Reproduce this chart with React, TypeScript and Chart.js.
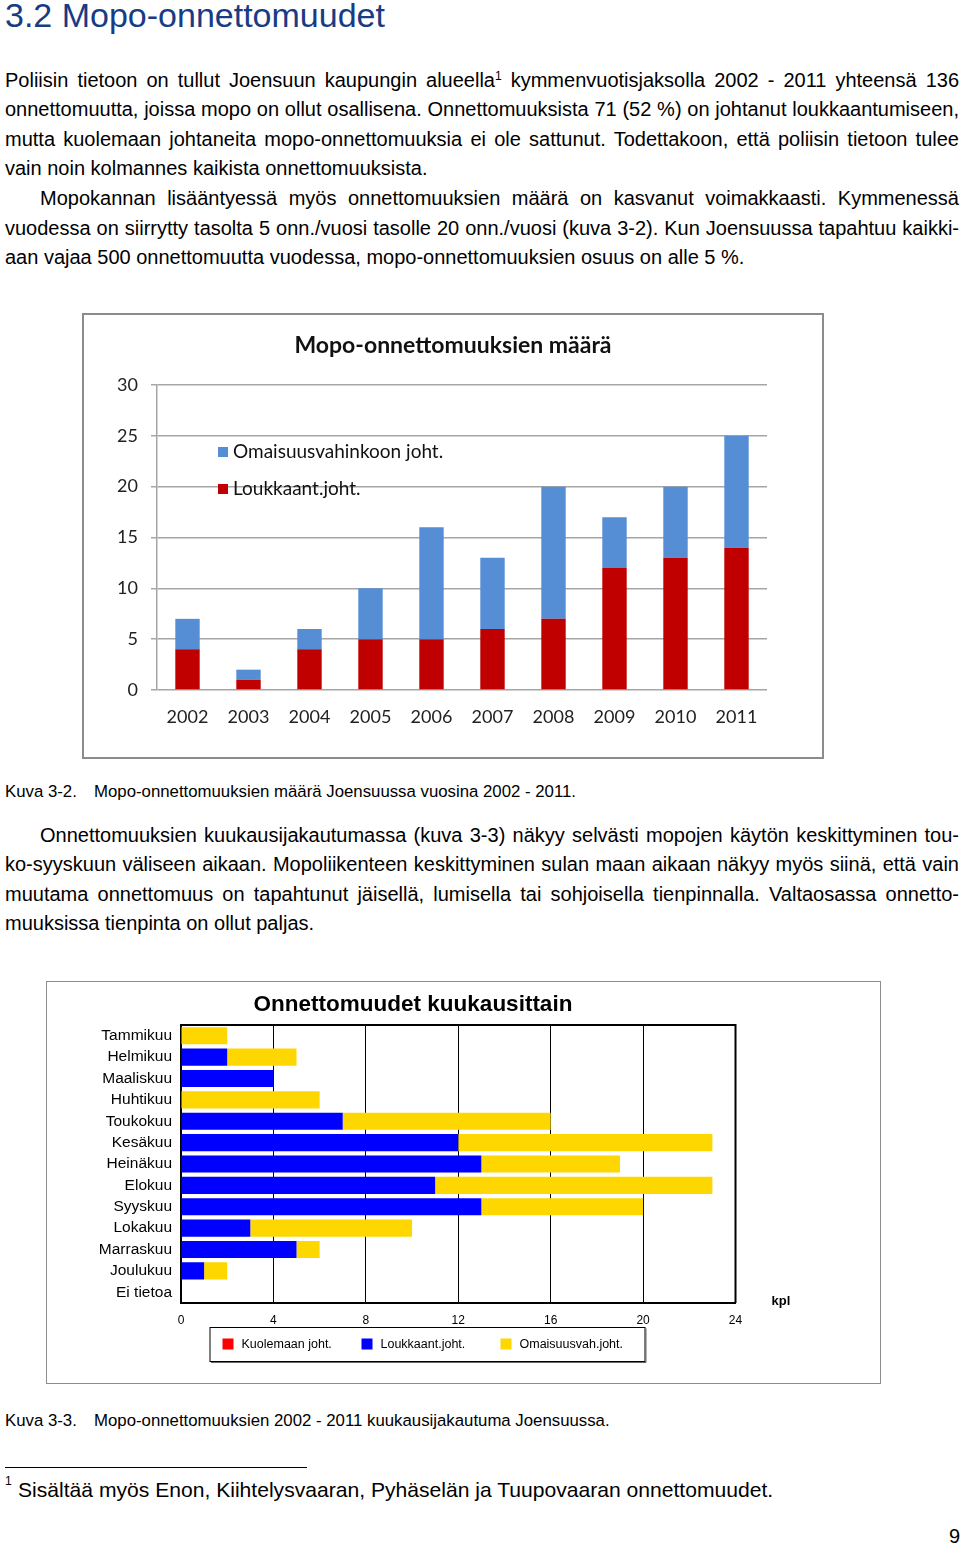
import React, { useEffect, useRef } from "react";
import { Chart, registerables } from "chart.js";

Chart.register(...registerables);

// ---------- Chart 1 data: Mopo-onnettomuuksien määrä ----------
const years = ["2002", "2003", "2004", "2005", "2006", "2007", "2008", "2009", "2010", "2011"];
const injuryByYear = [4, 1, 4, 5, 5, 6, 7, 12, 13, 14];
const propertyByYear = [3, 1, 2, 5, 11, 7, 13, 5, 7, 11];
const yearAxisMax = 30;
const yearAxisStep = 5;
const yearChartTitle = "Mopo-onnettomuuksien määrä";

// ---------- Chart 2 data: Onnettomuudet kuukausittain ----------
const months = [
  "Tammikuu", "Helmikuu", "Maaliskuu", "Huhtikuu", "Toukokuu", "Kesäkuu",
  "Heinäkuu", "Elokuu", "Syyskuu", "Lokakuu", "Marraskuu", "Joulukuu", "Ei tietoa",
];
const deathByMonth = [0, 0, 0, 0, 0, 0, 0, 0, 0, 0, 0, 0, 0];
const injuryByMonth = [0, 2, 4, 0, 7, 12, 13, 11, 13, 3, 5, 1, 0];
const propertyByMonth = [2, 3, 0, 6, 9, 11, 6, 12, 7, 7, 1, 1, 0];
const monthAxisMax = 24;
const monthAxisStep = 4;
const monthChartTitle = "Onnettomuudet kuukausittain";

const TEXT_FONT = "'Liberation Sans', Arial, Helvetica, sans-serif";

const decorPlugin1 = {
  id: "decor1",
  afterDatasetsDraw(chart: any) {
    const { ctx, chartArea } = chart;
    ctx.save();
    // title
    ctx.fillStyle = "#111";
    ctx.font = "bold 23px Lato";
    ctx.textAlign = "center";
    ctx.textBaseline = "middle";
    ctx.fillText(yearChartTitle, chart.width / 2, chartArea.top - 39);
    // legend inside plot
    const order = [chart.data.datasets[1], chart.data.datasets[0]];
    order.forEach((ds: any, i: number) => {
      const x = chartArea.left + 61;
      const y = chartArea.top + 62 + i * 37;
      ctx.fillStyle = ds.backgroundColor;
      ctx.fillRect(x, y, 10, 10);
      ctx.fillStyle = "#111";
      ctx.font = "19px Lato";
      ctx.textBaseline = "middle";
      ctx.textAlign = "left";
      ctx.fillText(ds.label, x + 15, y + 5);
    });
    ctx.restore();
  },
};

const decorPlugin2 = {
  id: "decor2",
  afterDatasetsDraw(chart: any) {
    const { ctx, chartArea } = chart;
    ctx.save();
    // top and right frame of the plot
    ctx.strokeStyle = "#000";
    ctx.lineWidth = 2;
    ctx.beginPath();
    ctx.moveTo(chartArea.left, chartArea.top);
    ctx.lineTo(chartArea.right, chartArea.top);
    ctx.lineTo(chartArea.right, chartArea.bottom);
    ctx.stroke();
    // title
    ctx.fillStyle = "#000";
    ctx.font = "bold 22.5px 'Liberation Sans'";
    ctx.textAlign = "center";
    ctx.textBaseline = "middle";
    ctx.fillText(monthChartTitle, chartArea.left + 232, chartArea.top - 20);
    // unit
    ctx.font = "bold 13px 'Liberation Sans'";
    ctx.textAlign = "left";
    ctx.fillText("kpl", chartArea.right + 36, chartArea.bottom - 2);
    // legend box
    const bx = chartArea.left + 28.5;
    const by = chartArea.bottom + 24;
    const bw = 435;
    const bh = 34;
    ctx.fillStyle = "#fff";
    ctx.fillRect(bx, by, bw, bh);
    ctx.strokeStyle = "#000";
    ctx.lineWidth = 1;
    ctx.strokeRect(bx + 0.5, by + 0.5, bw, bh);
    ctx.strokeStyle = "#666";
    ctx.beginPath();
    ctx.moveTo(bx + 1.5, by + bh + 1.5);
    ctx.lineTo(bx + bw + 1.5, by + bh + 1.5);
    ctx.lineTo(bx + bw + 1.5, by + 1.5);
    ctx.stroke();
    chart.data.datasets.forEach((ds: any, i: number) => {
      const sx = bx + 13 + i * 139;
      const sy = by + bh / 2 - 5.5;
      ctx.fillStyle = ds.backgroundColor;
      ctx.fillRect(sx, sy, 11, 11);
      ctx.fillStyle = "#000";
      ctx.font = "12.5px 'Liberation Sans'";
      ctx.textBaseline = "middle";
      ctx.fillText(ds.label, sx + 19, by + bh / 2 + 1);
    });
    ctx.restore();
  },
};

function YearChart() {
  const ref = useRef<HTMLCanvasElement>(null);
  useEffect(() => {
    if (!ref.current) return;
    const chart = new Chart(ref.current, {
      type: "bar",
      data: {
        labels: years,
        datasets: [
          { label: "Loukkaant.joht.", data: injuryByYear, backgroundColor: "#C00000" },
          { label: "Omaisuusvahinkoon joht.", data: propertyByYear, backgroundColor: "#558ED5" },
        ],
      },
      options: {
        animation: false,
        responsive: false,
        maintainAspectRatio: false,
        layout: { padding: { left: 0, right: 55, top: 70, bottom: 0 } },
        datasets: { bar: { barPercentage: 0.8, categoryPercentage: 0.5 } },
        scales: {
          x: {
            stacked: true,
            grid: { display: false, drawTicks: false },
            border: { display: false },
            ticks: { autoSkip: false, font: { family: "Lato", size: 18 }, color: "#222", padding: 16 },
            afterFit: (s: any) => { s.height = 67; },
          },
          y: {
            stacked: true,
            min: 0,
            max: yearAxisMax,
            ticks: { stepSize: yearAxisStep, font: { family: "Lato", size: 18 }, color: "#222", padding: 13 },
            grid: { color: "#a6a6a6", lineWidth: 1.5, tickLength: 6 },
            border: { color: "#a6a6a6", width: 1.5 },
            afterFit: (s: any) => { s.width = 73; },
          },
        },
        plugins: {
          legend: { display: false },
          tooltip: { enabled: false },
          title: { display: false },
        },
      } as any,
      plugins: [decorPlugin1],
    });
    return () => chart.destroy();
  }, []);
  return <canvas ref={ref} width={738} height={442} style={{ display: "block", width: 738, height: 442 }} />;
}

function MonthChart() {
  const ref = useRef<HTMLCanvasElement>(null);
  useEffect(() => {
    if (!ref.current) return;
    const chart = new Chart(ref.current, {
      type: "bar",
      data: {
        labels: months,
        datasets: [
          { label: "Kuolemaan joht.", data: deathByMonth, backgroundColor: "#FF0000" },
          { label: "Loukkaant.joht.", data: injuryByMonth, backgroundColor: "#0000FF" },
          { label: "Omaisuusvah.joht.", data: propertyByMonth, backgroundColor: "#FFD700" },
        ],
      },
      options: {
        indexAxis: "y",
        animation: false,
        responsive: false,
        maintainAspectRatio: false,
        layout: { padding: { left: 0, right: 144.5, top: 43, bottom: 0 } },
        datasets: { bar: { barPercentage: 1, categoryPercentage: 0.8 } },
        scales: {
          x: {
            stacked: true,
            min: 0,
            max: monthAxisMax,
            ticks: { stepSize: monthAxisStep, font: { family: "Liberation Sans", size: 12 }, color: "#000", padding: 10 },
            grid: { color: "#000", lineWidth: 1, drawTicks: false },
            border: { color: "#000", width: 2 },
            afterFit: (s: any) => { s.height = 80; },
          },
          y: {
            stacked: true,
            grid: { display: false, drawTicks: false },
            border: { color: "#000", width: 2 },
            ticks: { autoSkip: false, font: { family: "Liberation Sans", size: 15.5 }, color: "#000", padding: 9 },
            afterFit: (s: any) => { s.width = 134; },
          },
        },
        plugins: { legend: { display: false }, tooltip: { enabled: false }, title: { display: false } },
      } as any,
      plugins: [decorPlugin2],
    });
    return () => chart.destroy();
  }, []);
  return <canvas ref={ref} width={833} height={401} style={{ display: "block", width: 833, height: 401 }} />;
}

function Line({ top, indent = 0, justify = true, children }: any) {
  return (
    <div
      style={{
        position: "absolute",
        left: 5 + indent,
        top,
        width: 954 - indent,
        fontSize: 20,
        lineHeight: "29.6px",
        textAlign: justify ? "justify" : "left",
        textAlignLast: justify ? "justify" : "left",
      } as any}
    >
      {children}
    </div>
  );
}

export default function App() {
  const lh = 29.6;
  const p1 = 65.5;
  const p3 = 820.5;
  return (
    <div
      style={{
        position: "absolute",
        left: 0,
        top: 0,
        width: 960,
        height: 1547,
        overflow: "hidden",
        background: "#fff",
        color: "#000",
        fontFamily: TEXT_FONT,
      }}
    >
      <div style={{ position: "absolute", left: 5, top: -2, fontSize: 34, lineHeight: "34px", color: "#173c84", whiteSpace: "nowrap" }}>
        3.2 Mopo-onnettomuudet
      </div>

      <Line top={p1}>
        Poliisin tietoon on tullut Joensuun kaupungin alueella<sup style={{ fontSize: 12, lineHeight: 0, verticalAlign: "7px" }}>1</sup> kymmenvuotisjaksolla 2002 - 2011 yhteensä 136
      </Line>
      <Line top={p1 + lh}>
        onnettomuutta, joissa mopo on ollut osallisena. Onnettomuuksista 71 (52 %) on johtanut loukkaantumiseen,
      </Line>
      <Line top={p1 + 2 * lh}>
        mutta kuolemaan johtaneita mopo-onnettomuuksia ei ole sattunut. Todettakoon, että poliisin tietoon tulee
      </Line>
      <Line top={p1 + 3 * lh} justify={false}>
        vain noin kolmannes kaikista onnettomuuksista.
      </Line>
      <Line top={p1 + 4 * lh} indent={35}>
        Mopokannan lisääntyessä myös onnettomuuksien määrä on kasvanut voimakkaasti. Kymmenessä
      </Line>
      <Line top={p1 + 5 * lh}>
        vuodessa on siirrytty tasolta 5 onn./vuosi tasolle 20 onn./vuosi (kuva 3-2). Kun Joensuussa tapahtuu kaikki-
      </Line>
      <Line top={p1 + 6 * lh} justify={false}>
        aan vajaa 500 onnettomuutta vuodessa, mopo-onnettomuuksien osuus on alle 5 %.
      </Line>

      <div style={{ position: "absolute", left: 82, top: 313, width: 742, height: 446, boxSizing: "border-box", border: "2px solid #8c8c8c", background: "#fff" }}>
        <YearChart />
      </div>

      <div style={{ position: "absolute", left: 5, top: 782, fontSize: 16.8, lineHeight: "20px", whiteSpace: "nowrap" }}>Kuva 3-2.</div>
      <div style={{ position: "absolute", left: 94, top: 782, fontSize: 16.8, lineHeight: "20px", whiteSpace: "nowrap" }}>
        Mopo-onnettomuuksien määrä Joensuussa vuosina 2002 - 2011.
      </div>

      <Line top={p3} indent={35}>
        Onnettomuuksien kuukausijakautumassa (kuva 3-3) näkyy selvästi mopojen käytön keskittyminen tou-
      </Line>
      <Line top={p3 + lh}>
        ko-syyskuun väliseen aikaan. Mopoliikenteen keskittyminen sulan maan aikaan näkyy myös siinä, että vain
      </Line>
      <Line top={p3 + 2 * lh}>
        muutama onnettomuus on tapahtunut jäisellä, lumisella tai sohjoisella tienpinnalla. Valtaosassa onnetto-
      </Line>
      <Line top={p3 + 3 * lh} justify={false}>
        muuksissa tienpinta on ollut paljas.
      </Line>

      <div style={{ position: "absolute", left: 46, top: 981, width: 835, height: 403, boxSizing: "border-box", border: "1px solid #8c8c8c", background: "#fff" }}>
        <MonthChart />
      </div>

      <div style={{ position: "absolute", left: 5, top: 1411, fontSize: 16.8, lineHeight: "20px", whiteSpace: "nowrap" }}>Kuva 3-3.</div>
      <div style={{ position: "absolute", left: 94, top: 1411, fontSize: 16.8, lineHeight: "20px", whiteSpace: "nowrap" }}>
        Mopo-onnettomuuksien 2002 - 2011 kuukausijakautuma Joensuussa.
      </div>

      <div style={{ position: "absolute", left: 5, top: 1467, width: 302, height: 1, background: "#000" }} />
      <div style={{ position: "absolute", left: 5, top: 1474, fontSize: 12, lineHeight: "14px" }}>1</div>
      <div style={{ position: "absolute", left: 18, top: 1478, fontSize: 21.1, lineHeight: "24px", whiteSpace: "nowrap" }}>
        Sisältää myös Enon, Kiihtelysvaaran, Pyhäselän ja Tuupovaaran onnettomuudet.
      </div>
      <div style={{ position: "absolute", left: 949, top: 1524, fontSize: 20, lineHeight: "24px" }}>9</div>
    </div>
  );
}
